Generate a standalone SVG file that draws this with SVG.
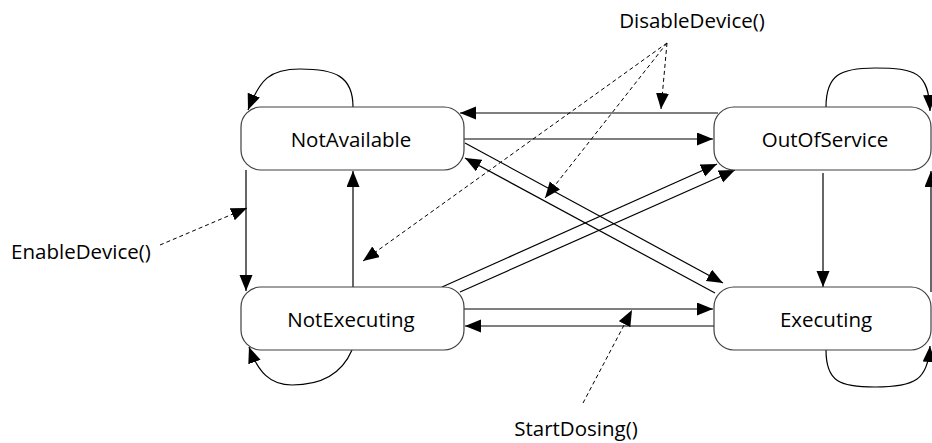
<svg xmlns="http://www.w3.org/2000/svg" width="932" height="443" viewBox="0 0 932 443">
  <style>
    .state rect { fill: #ffffff; stroke: #404040; stroke-width: 1.2; }
    .label { font-family: "Open Sans", "Liberation Sans", sans-serif; font-size: 20.5px; fill: #000000; }
    .edge { fill: none; stroke: #000000; stroke-width: 1.2; marker-end: url(#arrow); }
    .note { fill: none; stroke: #000000; stroke-width: 1; stroke-dasharray: 4 3; marker-end: url(#arrow); }
  </style>
  <defs>
    <marker id="arrow" markerUnits="userSpaceOnUse" markerWidth="18" markerHeight="14" refX="16" refY="6.5" orient="auto">
      <path d="M0,0 L16,6.5 L0,13 Z" fill="#000000"/>
    </marker>
  </defs>
  <rect width="932" height="443" fill="#ffffff"/>

  <!-- transitions -->
  <g id="connectors">
    <!-- self loops -->
    <path class="edge" d="M353,107 C353,76 335,69 300,69 C270,69 260,79 248,110"/>
    <path class="edge" d="M352,350 C340,378 315,385 292,385 C270,385 258,372 249,347"/>
    <path class="edge" d="M826,107 C826,75 840,68 875,68 C915,68 929,72 930,111"/>
    <path class="edge" d="M826,350 C826,382 840,387 875,387 C915,387 928,380 930,346"/>

    <!-- top pair -->
    <path class="edge" d="M718,113 L460,113"/>
    <path class="edge" d="M464,139 L713,139"/>
    <!-- bottom pair -->
    <path class="edge" d="M464,309 L713,309"/>
    <path class="edge" d="M714,326 L465,326"/>
    <!-- verticals -->
    <path class="edge" d="M246,170 L246,291"/>
    <path class="edge" d="M353,287 L353,171"/>
    <path class="edge" d="M823,173 L823,287"/>
    <path class="edge" d="M931,292 L931,171"/>
    <!-- diagonals -->
    <path class="edge" d="M465,143 L723,283"/>
    <path class="edge" d="M715,293 L465,158"/>
    <path class="edge" d="M442,287 L717,164"/>
    <path class="edge" d="M460,292 L735,170"/>

    <!-- event annotations -->
    <path class="note" d="M667,43 L661,109"/>
    <path class="note" d="M667,43 L545,198"/>
    <path class="note" d="M667,43 L363,261"/>
    <path class="note" d="M160,245 L247,208"/>
    <path class="note" d="M583,403 L632,310"/>
  </g>

  <!-- states -->
  <g id="NotAvailable" class="state">
    <rect x="241" y="107" width="223" height="63" rx="20" ry="20"/>
    <text class="label" x="351" y="147" text-anchor="middle">NotAvailable</text>
  </g>
  <g id="OutOfService" class="state">
    <rect x="714" y="107" width="217" height="63" rx="20" ry="20"/>
    <text class="label" x="825" y="147" text-anchor="middle">OutOfService</text>
  </g>
  <g id="NotExecuting" class="state">
    <rect x="241" y="287" width="223" height="63" rx="20" ry="20"/>
    <text class="label" x="351" y="327" text-anchor="middle">NotExecuting</text>
  </g>
  <g id="Executing" class="state">
    <rect x="714" y="287" width="217" height="63" rx="20" ry="20"/>
    <text class="label" x="826" y="327" text-anchor="middle">Executing</text>
  </g>

  <!-- event labels -->
  <g id="labels">
    <text class="label" x="692" y="28" text-anchor="middle">DisableDevice()</text>
    <text class="label" x="81" y="259" text-anchor="middle">EnableDevice()</text>
    <text class="label" x="576" y="436" text-anchor="middle">StartDosing()</text>
  </g>
</svg>
